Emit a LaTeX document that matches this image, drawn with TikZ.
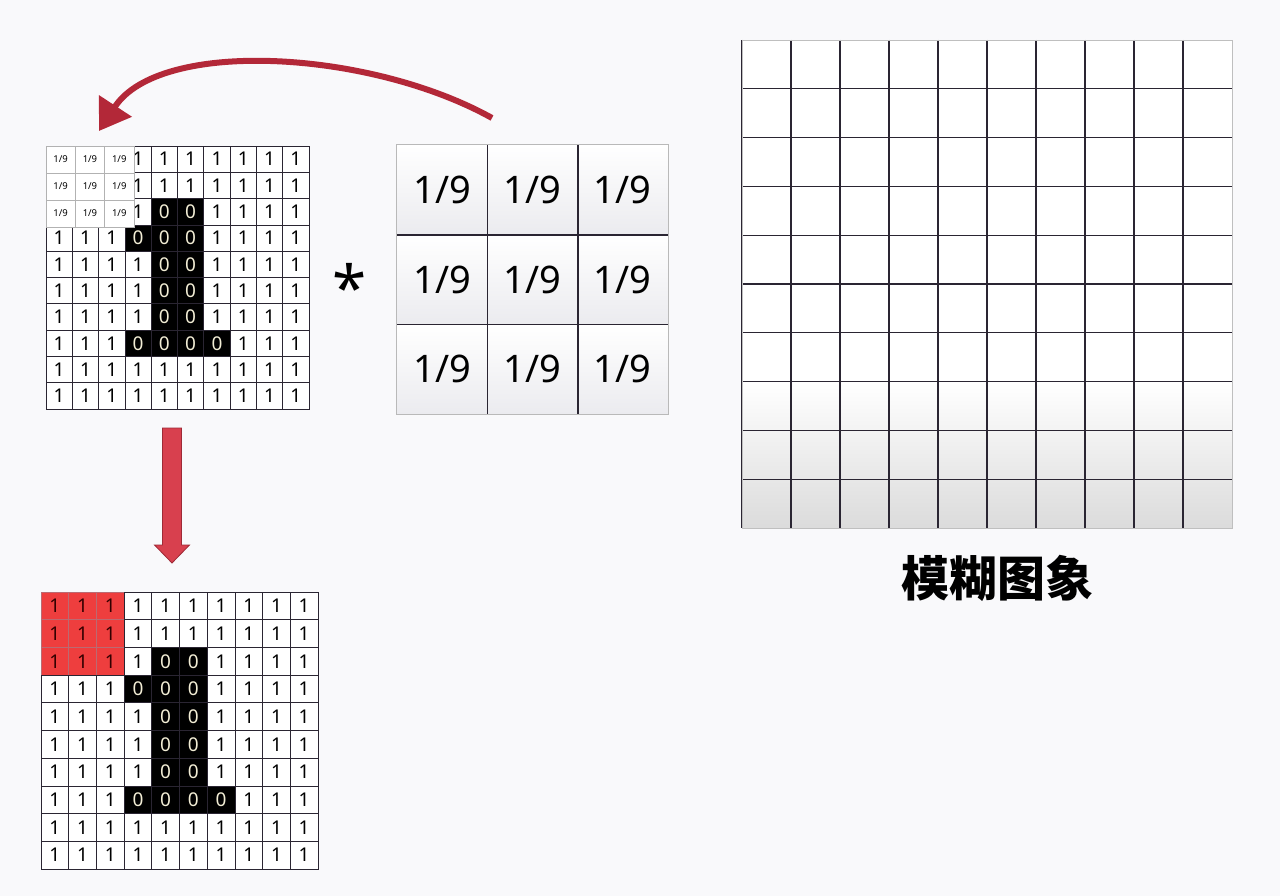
\documentclass[tikz,border=0pt]{standalone}
\usepackage{fontspec}
\setmainfont{Noto Sans}
\newfontfamily\cjk{Noto Sans CJK SC}
\usetikzlibrary{arrows.meta,calc}
\definecolor{bg}{HTML}{F9F9FB}
\definecolor{gridline}{HTML}{2A2532}
\definecolor{arrowred}{HTML}{B32838}
\definecolor{blockred}{HTML}{D8404E}
\definecolor{blockedge}{HTML}{9E2A36}
\definecolor{cellred}{HTML}{EE3E3E}
\definecolor{zerotxt}{HTML}{F2EDD5}
\definecolor{kgray}{HTML}{EBEBEF}
\def\zc#1#2{\expandafter\def\csname zc-#1-#2\endcsname{}}
\zc24 \zc25 \zc33 \zc34 \zc35 \zc44 \zc45 \zc54 \zc55 \zc64 \zc65 \zc73 \zc74 \zc75 \zc76
% #1 prefix, #2 x0, #3 y0, #4 cell size, #5 red corner flag (1), or hidden corner (2)
\newcommand\digitgrid[5]{%
  \foreach \r in {0,...,9}{\foreach \c in {0,...,9}{%
    \pgfmathtruncatemacro\corner{(\r<3)*(\c<3)}%
    \pgfmathtruncatemacro\isred{(#5==1)*\corner}%
    \pgfmathtruncatemacro\ishid{(#5==2)*\corner}%
    \ifnum\isred=1
      \node[cellbox,fill=cellred,draw=blockedge!70,text=black!80!red,minimum size=#4]
        (#1-\r-\c) at ({#2+(\c+0.5)*#4},{#3+(\r+0.5)*#4}) {1};
    \else\ifnum\ishid=1
      \node[cellbox,minimum size=#4]
        (#1-\r-\c) at ({#2+(\c+0.5)*#4},{#3+(\r+0.5)*#4}) {};
    \else
      \ifcsname zc-\r-\c\endcsname
        \node[cellbox,fill=black,text=zerotxt,minimum size=#4]
          (#1-\r-\c) at ({#2+(\c+0.5)*#4},{#3+(\r+0.5)*#4}) {0};
      \else
        \node[cellbox,minimum size=#4]
          (#1-\r-\c) at ({#2+(\c+0.5)*#4},{#3+(\r+0.5)*#4}) {1};
      \fi
    \fi\fi
  }}%
}
\begin{document}
\begin{tikzpicture}[x=1pt,y=-1pt,
  cellbox/.style={draw=gridline,line width=0.7pt,fill=white,inner sep=0pt,
    font=\fontsize{19}{19}\selectfont},
  ovbox/.style={draw=gray!60,line width=0.6pt,fill=white,inner sep=0pt,
    minimum width=29.3pt,minimum height=27pt,font=\fontsize{9.5}{9.5}\selectfont},
  kbox/.style={inner sep=0pt,minimum width=90.3pt,minimum height=89.7pt,
    top color=white,bottom color=kgray,font=\fontsize{38}{38}\selectfont},
  curvearrow/.style={draw=arrowred,line width=6pt,
    -{Triangle[length=30pt,width=38pt]}},
  blockarrow/.style={fill=blockred,draw=blockedge,line width=0.8pt,line join=miter},
]
\fill[bg] (0,0) rectangle (1280,896);
\useasboundingbox (0,0) rectangle (1280,896);

% ---- input grid A with kernel overlay
\digitgrid{A}{46}{146}{26.3}{2}
\foreach \r in {0,1,2}{\foreach \c in {0,1,2}{%
  \node[ovbox] (OV-\r-\c) at ({46+(\c+0.5)*29.3},{146+(\r+0.5)*27}) {1/9};
}}

% ---- output grid B with red window
\digitgrid{B}{41}{592}{27.7}{1}

% ---- kernel
\foreach \r in {0,1,2}{\foreach \c in {0,1,2}{%
  \node[kbox] (K-\r-\c) at ({397+(\c+0.5)*90.3},{145+(\r+0.5)*89.7}) {1/9};
}}
\draw[gridline,line width=1.4pt] (K-0-0.north east) -- (K-2-0.south east);
\draw[gridline,line width=1.4pt] (K-0-1.north east) -- (K-2-1.south east);
\draw[gridline,line width=1.4pt] (K-0-0.south west) -- (K-0-2.south east);
\draw[gridline,line width=1.4pt] (K-1-0.south west) -- (K-1-2.south east);
\draw[gray!55,line width=0.8pt] (K-0-0.north west) rectangle (K-2-2.south east);

% ---- convolution star
\node[font=\bfseries\fontsize{62}{62}\selectfont,anchor=base,inner sep=0pt]
  (star) at (350,310) {*};

% ---- blurred image grid
\node[draw=none,inner sep=0pt,minimum width=490pt,minimum height=488pt,fill=white,
  anchor=north west] (R) at (742,40) {};
\shade[top color=white,bottom color=gray!28] (742,382) rectangle (1232,528);
\foreach \i in {1,...,9}{%
  \draw[gridline,line width=1.1pt] ($(R.north west)+(\i*49,0)$) -- ($(R.south west)+(\i*49,0)$);
  \draw[gridline,line width=1.1pt] ($(R.north west)+(0,\i*48.8)$) -- ($(R.north east)+(0,\i*48.8)$);
}
\draw[gridline,line width=1.1pt] (R.north west) -- (R.south west);
\draw[gray!50,line width=0.6pt] (R.north west) rectangle (R.south east);
\node[font=\cjk\bfseries\fontsize{48}{48}\selectfont,inner sep=0pt] (label) at (997,578) {模糊图象};

% ---- curved arrow from kernel to overlay
\coordinate (arcS) at (492,118);
\coordinate (arcE) at (99,131);
\draw[curvearrow] (arcS) .. controls (370,50) and (160,38) .. (arcE);

% ---- down block arrow from grid A to grid B
\coordinate (downS) at (172,428);
\coordinate (downE) at (172,563);
\draw[blockarrow] ($(downS)+(-9.5,0)$) -- ($(downS)+(9.5,0)$) -- ($(downE)+(9.5,-18)$)
  -- ($(downE)+(17.5,-18)$) -- (downE) -- ($(downE)+(-17.5,-18)$)
  -- ($(downE)+(-9.5,-18)$) -- cycle;
\end{tikzpicture}
\end{document}
